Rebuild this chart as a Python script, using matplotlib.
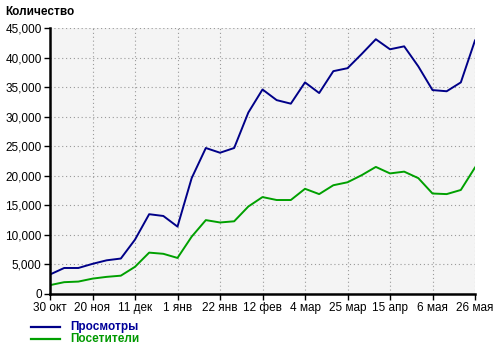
"""Weekly views and visitors chart (Просмотры / Посетители)"""
import numpy as np
import matplotlib
matplotlib.use("Agg")
import matplotlib.pyplot as plt
from matplotlib.ticker import FuncFormatter

plt.rcParams['font.family'] = ['Liberation Sans', 'DejaVu Sans']

TICK_LABELS = ["30 окт", "20 ноя", "11 дек", "1 янв", "22 янв", "12 фев",
               "4 мар", "25 мар", "15 апр", "6 мая", "26 мая"]
VIEWS = [3300, 4400, 4400, 5100, 5700, 6000, 9200, 13500, 13200, 11400,
         19600, 24700, 23900, 24700, 30700, 34600, 32800, 32200, 35800, 34000,
         37700, 38200, 40600, 43100, 41400, 41900, 38500, 34500, 34300, 35800,
         42900]
VISITORS = [1500, 2000, 2100, 2600, 2900, 3100, 4600, 7000, 6800, 6100,
            9700, 12500, 12100, 12300, 14800, 16400, 15900, 15900, 17800, 16900,
            18400, 18900, 20100, 21500, 20400, 20700, 19600, 17000, 16900, 17600,
            21400]
SERIES_NAMES = ["Просмотры", "Посетители"]
LINE_COLORS = ["#000088", "#00a000"]
TEXT_COLORS = ["#000099", "#009900"]


def plot_chart():
    """Draw and save the chart"""
    fig = plt.figure(figsize=(5.0, 3.51), dpi=100)
    axs = fig.add_axes([0.1, 0.1624, 0.85, 0.7578])
    axs.set_facecolor("#f4f4f4")

    weeks = np.arange(len(VIEWS))
    axs.plot(weeks, VIEWS, color=LINE_COLORS[0], linewidth=1.4)
    axs.plot(weeks, VISITORS, color=LINE_COLORS[1], linewidth=1.4)

    axs.set_xlim(0, len(VIEWS) - 1)
    axs.set_ylim(0, 45000)
    axs.set_xticks(np.arange(0, len(VIEWS), 3))
    axs.set_xticklabels(TICK_LABELS)
    axs.set_yticks(np.arange(0, 45001, 5000))
    axs.yaxis.set_major_formatter(
        FuncFormatter(lambda v, _: "0" if v == 0 else f"{int(v):,}"))

    axs.grid(True, color="#999999", linestyle=(0, (1, 2.5)), linewidth=0.8)
    axs.set_axisbelow(True)
    for side in ("top", "right"):
        axs.spines[side].set_visible(False)
    for side in ("left", "bottom"):
        axs.spines[side].set_linewidth(1.8)
        axs.spines[side].set_color("black")
    axs.tick_params(axis="both", length=4, width=1, labelsize=8.5, pad=2,
                    colors="black")

    fig.text(0.01, 0.966, "Количество", fontsize=8.5, fontweight="bold",
             va="center", ha="left")

    # hand-made legend under the axes
    for k, name in enumerate(SERIES_NAMES):
        y_pos = 1 - (327 + 12 * k) / 351
        fig.lines.append(plt.Line2D([0.062, 0.12], [y_pos, y_pos],
                                    color=LINE_COLORS[k], linewidth=1.6,
                                    transform=fig.transFigure))
        fig.text(0.14, y_pos, name, fontsize=8.5, fontweight="bold",
                 color=TEXT_COLORS[k], va="center", ha="left")

    fig.savefig("out.png", dpi=100)


if __name__ == "__main__":
    plot_chart()
